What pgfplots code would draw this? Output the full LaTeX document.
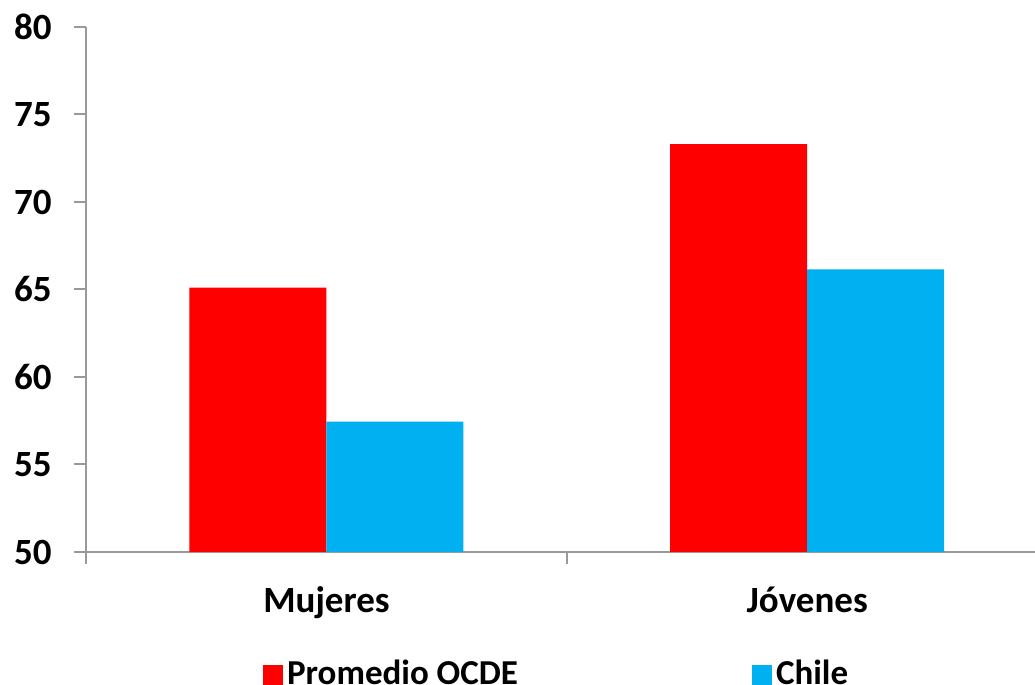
\documentclass[border=0pt]{standalone}
\usepackage{fontspec}
\setmainfont{Carlito}
\usepackage{pgfplots}
\pgfplotsset{compat=1.18}
\definecolor{ocde}{HTML}{FF0000}
\definecolor{chile}{HTML}{00B0F0}
\definecolor{axgray}{HTML}{999999}
\begin{document}
\fontsize{17.5}{21}\selectfont\bfseries
\begin{tikzpicture}
\path[use as bounding box] (-43pt,-66.5pt) rectangle (474.5pt,276pt);
\begin{axis}[
    at={(0,0)}, anchor=south west,
    scale only axis,
    width=474.5pt, height=262.5pt,
    bar width=0.285,
    xmin=-0.5, xmax=1.474,
    ymin=50, ymax=80,
    ytick={50,55,...,80},
    extra y ticks={50,55,...,80},
    extra y tick labels={},
    extra y tick style={ytick pos=left, tick align=outside, major tick length=6pt,
        tick style={draw=axgray, line width=1pt}},
    % category boundaries carry the ticks; names shifted to the centres
    xtick={-0.5,0.5},
    xticklabels={Mujeres,Jóvenes},
    axis x line*=bottom, axis y line*=left,
    xtick pos=bottom, ytick pos=left,
    axis line style={-, draw=axgray, line width=1pt},
    every tick/.style={draw=axgray, line width=1pt},
    tick align=outside,
    major tick length=6pt,
    /pgf/number format/assume math mode=true,
    ticklabel style={font=\fontsize{18.5}{22}\selectfont\bfseries},
    yticklabel style={inner sep=0pt, xshift=-11pt},
    xticklabel style={inner sep=0pt, anchor=base, xshift=120.25pt, yshift=-24.5pt},
    legend columns=2,
    legend style={at={(0.497,0)}, anchor=center, yshift=-61.5pt, draw=none,
        font=\fontsize{17.5}{21}\selectfont\bfseries,
        /tikz/every even column/.append style={column sep=115pt},
        nodes={inner sep=2pt}},
    legend image code/.code={\fill[#1] (-6pt,-0.3em) rectangle (4pt,-0.3em+10pt);},
]
\addplot[ybar, bar shift=-0.1425, fill=ocde, draw=none] coordinates {(0,65.1) (1,73.3)};
\addplot[ybar, bar shift=0.1425, fill=chile, draw=none] coordinates {(0,57.45) (1,66.15)};
\legend{Promedio OCDE,Chile}
\end{axis}
\end{tikzpicture}
\end{document}
